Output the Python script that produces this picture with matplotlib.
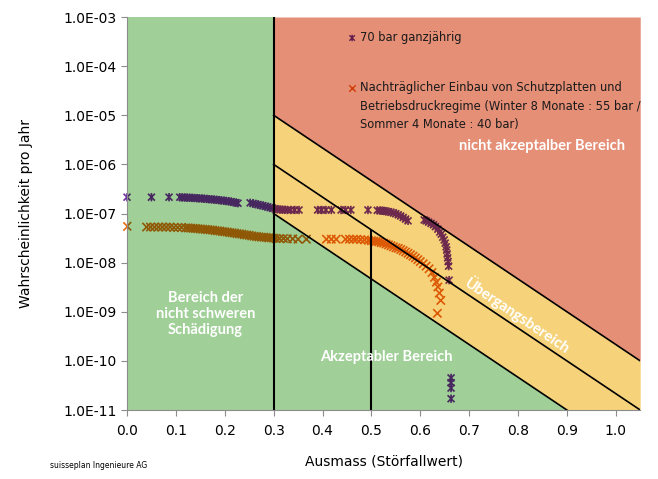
import numpy as np
import matplotlib
matplotlib.use("Agg")
import matplotlib.pyplot as plt
from matplotlib.path import Path
from matplotlib.colors import to_rgb
from matplotlib.ticker import NullLocator

# --- data ---------------------------------------------------------------
# 70 bar ganzjaehrig (purple stars)
p70_x = [0.000, 0.050, 0.086, 0.108, 0.113, 0.118, 0.123, 0.128, 0.133, 0.138,
         0.143, 0.148, 0.153, 0.158, 0.163, 0.168, 0.173, 0.178, 0.183, 0.188,
         0.193, 0.198, 0.203, 0.208, 0.213, 0.218, 0.223, 0.227,
         0.252, 0.258, 0.263, 0.268, 0.273, 0.278, 0.283, 0.288, 0.293, 0.298,
         0.303, 0.308, 0.313, 0.318, 0.323, 0.328, 0.335, 0.343, 0.352,
         0.390, 0.398, 0.407, 0.418, 0.438, 0.447, 0.458, 0.493,
         0.512, 0.518, 0.522, 0.526, 0.530, 0.535, 0.540, 0.545, 0.550, 0.555,
         0.560, 0.565, 0.570, 0.575,
         0.608, 0.612, 0.617, 0.622, 0.627, 0.631, 0.636, 0.640, 0.643, 0.646,
         0.649, 0.651, 0.653, 0.654, 0.655, 0.656, 0.657, 0.658, 0.659,
         0.663, 0.663, 0.663, 0.663]
p70_y = [2.15e-7, 2.15e-7, 2.15e-7, 2.15e-7, 2.12e-7, 2.12e-7, 2.10e-7, 2.10e-7, 2.08e-7, 2.07e-7,
         2.05e-7, 2.04e-7, 2.02e-7, 2.00e-7, 1.98e-7, 1.96e-7, 1.94e-7, 1.92e-7, 1.90e-7, 1.87e-7,
         1.85e-7, 1.82e-7, 1.80e-7, 1.77e-7, 1.74e-7, 1.70e-7, 1.66e-7, 1.62e-7,
         1.65e-7, 1.60e-7, 1.56e-7, 1.52e-7, 1.48e-7, 1.44e-7, 1.40e-7, 1.36e-7, 1.32e-7, 1.28e-7,
         1.25e-7, 1.22e-7, 1.20e-7, 1.20e-7, 1.19e-7, 1.18e-7, 1.18e-7, 1.18e-7, 1.18e-7,
         1.18e-7, 1.18e-7, 1.18e-7, 1.18e-7, 1.18e-7, 1.18e-7, 1.18e-7, 1.18e-7,
         1.16e-7, 1.15e-7, 1.14e-7, 1.13e-7, 1.11e-7, 1.09e-7, 1.06e-7, 1.03e-7, 9.9e-8, 9.4e-8,
         8.9e-8, 8.3e-8, 7.7e-8, 7.1e-8,
         7.4e-8, 7.1e-8, 6.7e-8, 6.3e-8, 5.9e-8, 5.4e-8, 4.8e-8, 4.2e-8, 3.8e-8, 3.3e-8,
         2.9e-8, 2.5e-8, 2.1e-8, 1.8e-8, 1.5e-8, 1.25e-8, 1.05e-8, 8.5e-9, 4.4e-9,
         4.5e-11, 3.6e-11, 2.8e-11, 1.7e-11]

# Schutzplatten + Betriebsdruckregime (orange crosses)
p55_x = [0.000, 0.040, 0.048, 0.056, 0.064, 0.072, 0.080, 0.088, 0.096, 0.104,
         0.112, 0.120, 0.125, 0.130, 0.135, 0.140, 0.145, 0.150, 0.155, 0.160,
         0.165, 0.170, 0.175, 0.180, 0.185, 0.190, 0.195, 0.200, 0.205, 0.210,
         0.215, 0.220, 0.225, 0.230, 0.235, 0.240, 0.245, 0.250, 0.255, 0.260,
         0.265, 0.270, 0.275, 0.280, 0.285, 0.290, 0.295, 0.300, 0.305,
         0.312, 0.320, 0.328, 0.339, 0.350, 0.367,
         0.408, 0.418, 0.428, 0.447, 0.455, 0.463, 0.470, 0.478, 0.486, 0.494,
         0.500, 0.505, 0.510, 0.515, 0.520, 0.525, 0.530, 0.535, 0.540, 0.545,
         0.550, 0.555, 0.560, 0.565, 0.570, 0.575, 0.580, 0.585, 0.590, 0.595,
         0.600, 0.606, 0.612, 0.618, 0.624, 0.629, 0.633, 0.636, 0.639, 0.642, 0.635]
p55_y = [5.5e-8, 5.3e-8, 5.3e-8, 5.3e-8, 5.3e-8, 5.3e-8, 5.3e-8, 5.3e-8, 5.2e-8, 5.2e-8,
         5.2e-8, 5.1e-8, 5.1e-8, 5.05e-8, 5.0e-8, 4.95e-8, 4.9e-8, 4.85e-8, 4.8e-8, 4.75e-8,
         4.7e-8, 4.65e-8, 4.6e-8, 4.5e-8, 4.45e-8, 4.4e-8, 4.3e-8, 4.25e-8, 4.2e-8, 4.1e-8,
         4.05e-8, 4.0e-8, 3.9e-8, 3.85e-8, 3.8e-8, 3.7e-8, 3.65e-8, 3.6e-8, 3.5e-8, 3.45e-8,
         3.4e-8, 3.35e-8, 3.3e-8, 3.3e-8, 3.25e-8, 3.2e-8, 3.2e-8, 3.15e-8, 3.1e-8,
         3.1e-8, 3.1e-8, 3.05e-8, 3.05e-8, 3.0e-8, 3.0e-8,
         3.0e-8, 3.0e-8, 3.0e-8, 3.0e-8, 3.0e-8, 3.0e-8, 3.0e-8, 2.95e-8, 2.9e-8, 2.85e-8,
         2.8e-8, 2.75e-8, 2.7e-8, 2.65e-8, 2.55e-8, 2.5e-8, 2.4e-8, 2.3e-8, 2.2e-8, 2.1e-8,
         2.0e-8, 1.95e-8, 1.85e-8, 1.75e-8, 1.65e-8, 1.55e-8, 1.45e-8, 1.35e-8, 1.25e-8, 1.15e-8,
         1.05e-8, 9.5e-9, 8.5e-9, 7.5e-9, 6.3e-9, 5.0e-9, 4.0e-9, 3.2e-9, 2.4e-9, 1.7e-9, 9.3e-10]

# criteria lines (start at Ausmass 0.3, end at right edge)
crit_x = [0.3, 1.05]
crit_upper = [1e-5, 1e-10]
crit_mid = [1e-6, 1e-11]
crit_lower = [1e-7, 1e-12]

x_ticks = [0.0, 0.1, 0.2, 0.3, 0.4, 0.5, 0.6, 0.7, 0.8, 0.9, 1.0]
y_ticks = [1e-11, 1e-10, 1e-9, 1e-8, 1e-7, 1e-6, 1e-5, 1e-4, 1e-3]
y_labels = ["1.0E-11", "1.0E-10", "1.0E-09", "1.0E-08", "1.0E-07",
            "1.0E-06", "1.0E-05", "1.0E-04", "1.0E-03"]

label_70 = "70 bar ganzjährig"
label_55 = ("Nachträglicher Einbau von Schutzplatten und\n"
            "Betriebsdruckregime (Winter 8 Monate : 55 bar /\n"
            "Sommer 4 Monate : 40 bar)")

# --- colours --------------------------------------------------------------
green = "#A0CF98"
yellow = "#F6D37A"
red = "#E58F77"
purple = "#7030A0"
orange = "#E46C0A"


def zone_color(x, y):
    if x < 0.3:
        return green
    ly = np.log10(y)
    up = np.interp(x, crit_x, np.log10(crit_upper))
    lo = np.interp(x, crit_x, np.log10(crit_lower))
    if ly >= up:
        return red
    if ly >= lo:
        return yellow
    return green


def multiplied(base, xs, ys):
    # the coloured zones sit on top of the markers (multiply blend)
    b = np.array(to_rgb(base))
    return [tuple(b * np.array(to_rgb(zone_color(x, y)))) for x, y in zip(xs, ys)]


star = Path([(-1, -1), (1, 1), (-1, 1), (1, -1), (0, -1.2), (0, 1.2)],
            [Path.MOVETO, Path.LINETO, Path.MOVETO, Path.LINETO, Path.MOVETO, Path.LINETO])

# --- figure ---------------------------------------------------------------
fig = plt.figure(figsize=(6.58, 4.79), dpi=100)
ax = fig.add_axes([0.193, 0.144, 0.78, 0.8205])
ax.set_yscale("log")
ax.set_xlim(0, 1.05)
ax.set_ylim(1e-11, 1e-3)

# zones
ax.axvspan(0, 0.3, color=green, lw=0, zorder=1)
ax.fill_between(crit_x, [1e-13, 1e-13], crit_lower, color=green, lw=0, zorder=1)
ax.fill_between(crit_x, crit_lower, crit_upper, color=yellow, lw=0, zorder=1)
ax.fill_between(crit_x, crit_upper, [1e-3, 1e-3], color=red, lw=0, zorder=1)

# boundary lines
ax.plot(crit_x, crit_upper, color="black", lw=1.2, zorder=3)
ax.plot(crit_x, crit_mid, color="black", lw=1.2, zorder=3)
ax.plot(crit_x, crit_lower, color="black", lw=1.2, zorder=3)
ax.axvline(0.3, color="black", lw=1.5, zorder=3)
mid_at_05 = 10 ** np.interp(0.5, crit_x, np.log10(crit_mid))
ax.vlines(0.5, 1e-11, mid_at_05, color="black", lw=1.5, zorder=3)

# points: pure colour underneath (only visible outside the plot area) ...
ax.scatter(p70_x, p70_y, marker=star, s=36, facecolors="none", edgecolors=purple,
           linewidths=1.2, zorder=0.5, clip_on=False)
ax.scatter(p55_x, p55_y, marker="x", s=36, color=orange, linewidths=1.2,
           zorder=0.5, clip_on=False)
# ... and blended colour inside the zones
ax.scatter(p70_x, p70_y, marker=star, s=36, facecolors="none",
           edgecolors=multiplied(purple, p70_x, p70_y), linewidths=1.2, zorder=2)
ax.scatter(p55_x, p55_y, marker="x", s=36,
           color=multiplied(orange, p55_x, p55_y), linewidths=1.2, zorder=2)

# legend inside the red zone
red_rgb = np.array(to_rgb(red))
ax.scatter([0.4386], [0.9466], marker=star, s=22, facecolors="none",
           edgecolors=[tuple(np.array(to_rgb(purple)) * red_rgb)], linewidths=1.0,
           transform=ax.transAxes, zorder=4)
ax.text(0.454, 0.9466, label_70, transform=ax.transAxes, fontsize=8.3,
        va="center", ha="left", color="#1a1a1a", zorder=4)
ax.scatter([0.4386], [0.819], marker="x", s=22,
           color=[tuple(np.array(to_rgb(orange)) * red_rgb)], linewidths=1.0,
           transform=ax.transAxes, zorder=4)
ax.text(0.454, 0.8365, label_55, transform=ax.transAxes, fontsize=8.3,
        va="top", ha="left", color="#1a1a1a", linespacing=1.55, zorder=4)

# zone labels
zone_font = dict(family=["Lato", "DejaVu Sans"], weight="bold", color="white",
                 fontsize=10.5, zorder=4)
ax.text(0.850, 10 ** -5.62, "nicht akzeptalber Bereich", ha="center", va="center", **zone_font)
ax.text(0.530, 10 ** -9.92, "Akzeptabler Bereich", ha="center", va="center", **zone_font)
ax.text(0.160, 10 ** -9.05, "Bereich der\nnicht schweren\nSchädigung", ha="center",
        va="center", linespacing=1.2, **zone_font)
ax.text(0.800, 10 ** -9.08, "Übergangsbereich", ha="center", va="center",
        rotation=-34, rotation_mode="anchor",
        **{**zone_font, "fontsize": 11})

# axes styling
for s in ["top", "right"]:
    ax.spines[s].set_visible(False)
for s in ["left", "bottom"]:
    ax.spines[s].set_color("#8c8c8c")
    ax.spines[s].set_zorder(5)
ax.set_xticks(x_ticks)
ax.set_xticklabels([f"{v:.1f}" for v in x_ticks])
ax.set_yticks(y_ticks)
ax.set_yticklabels(y_labels)
ax.yaxis.set_minor_locator(NullLocator())
ax.tick_params(axis="both", direction="out", length=4, color="#8c8c8c",
               labelsize=10, labelcolor="black")
ax.tick_params(axis="x", pad=6)

ax.set_xlabel("Ausmass (Störfallwert)", fontsize=10, labelpad=12)
ax.set_ylabel("Wahrscheinlichkeit pro Jahr", fontsize=10, labelpad=22)
fig.text(0.076, 0.029, "suisseplan Ingenieure AG", fontsize=5.5, va="center", ha="left")

fig.savefig("out.png", dpi=100)
